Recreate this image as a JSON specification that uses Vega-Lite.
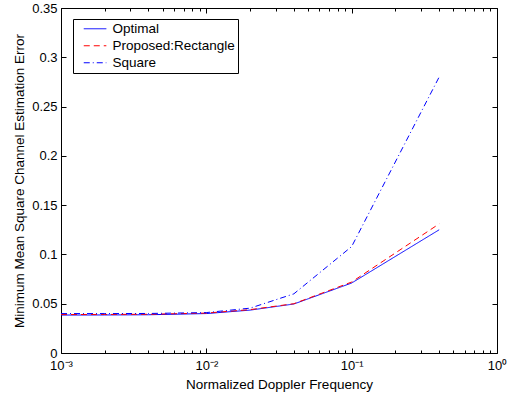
{
  "$schema": "https://vega.github.io/schema/vega-lite/v6.json",
  "width": 436,
  "height": 345,
  "autosize": "none",
  "padding": {"left": 61, "top": 8, "right": 20, "bottom": 43},
  "background": "white",
  "config": {
    "font": "Liberation Sans",
    "view": {"stroke": "black", "strokeWidth": 1},
    "axis": {
      "grid": false,
      "domain": false,
      "tickColor": "black",
      "labelColor": "black",
      "titleColor": "black",
      "labelFontSize": 13,
      "titleFontSize": 13.5,
      "titleFontWeight": "normal",
      "labelFont": "Liberation Sans",
      "titleFont": "Liberation Sans"
    },
    "legend": {
      "labelFontSize": 13.5,
      "labelFont": "Liberation Sans",
      "labelColor": "black"
    }
  },
  "data": {
    "values": [
      {"f": 0.001, "mse": 0.0385, "series": "Optimal"},
      {"f": 0.002, "mse": 0.0386, "series": "Optimal"},
      {"f": 0.004, "mse": 0.0388, "series": "Optimal"},
      {"f": 0.01, "mse": 0.0400, "series": "Optimal"},
      {"f": 0.02, "mse": 0.0435, "series": "Optimal"},
      {"f": 0.04, "mse": 0.0497, "series": "Optimal"},
      {"f": 0.1, "mse": 0.0710, "series": "Optimal"},
      {"f": 0.4, "mse": 0.1250, "series": "Optimal"},
      {"f": 0.001, "mse": 0.0390, "series": "Proposed:Rectangle"},
      {"f": 0.002, "mse": 0.0391, "series": "Proposed:Rectangle"},
      {"f": 0.004, "mse": 0.0393, "series": "Proposed:Rectangle"},
      {"f": 0.01, "mse": 0.0405, "series": "Proposed:Rectangle"},
      {"f": 0.02, "mse": 0.0440, "series": "Proposed:Rectangle"},
      {"f": 0.04, "mse": 0.0500, "series": "Proposed:Rectangle"},
      {"f": 0.1, "mse": 0.0720, "series": "Proposed:Rectangle"},
      {"f": 0.4, "mse": 0.1310, "series": "Proposed:Rectangle"},
      {"f": 0.001, "mse": 0.0400, "series": "Square"},
      {"f": 0.002, "mse": 0.0400, "series": "Square"},
      {"f": 0.004, "mse": 0.0401, "series": "Square"},
      {"f": 0.01, "mse": 0.0410, "series": "Square"},
      {"f": 0.02, "mse": 0.0455, "series": "Square"},
      {"f": 0.04, "mse": 0.0600, "series": "Square"},
      {"f": 0.1, "mse": 0.1080, "series": "Square"},
      {"f": 0.4, "mse": 0.2800, "series": "Square"}
    ]
  },
  "layer": [
    {
      "mark": {"type": "line", "strokeWidth": 1},
      "encoding": {
        "x": {
          "field": "f", "type": "quantitative",
          "scale": {"type": "log", "domain": [0.001, 1], "nice": false},
          "axis": {
            "orient": "bottom",
            "title": "Normalized Doppler Frequency",
            "titlePadding": 3,
            "values": [0.001,0.002,0.003,0.004,0.005,0.006,0.007,0.008,0.009,0.01,0.02,0.03,0.04,0.05,0.06,0.07,0.08,0.09,0.1,0.2,0.3,0.4,0.5,0.6,0.7,0.8,0.9,1],
            "labelExpr": "datum.value == 0.001 ? '10⁻³' : datum.value == 0.01 ? '10⁻²' : datum.value == 0.1 ? '10⁻¹' : datum.value == 1 ? '10⁰' : ''",
            "labelFlush": false,
            "labelOverlap": false,
            "tickSize": {"condition": {"test": "datum.value == 0.001 || datum.value == 0.01 || datum.value == 0.1 || datum.value == 1", "value": -5}, "value": -3},
            "labelPadding": 11
          }
        },
        "y": {
          "field": "mse", "type": "quantitative",
          "scale": {"domain": [0, 0.35], "nice": false, "zero": true},
          "axis": {
            "orient": "left",
            "title": "Minimum Mean Square Channel Estimation Error",
            "values": [0, 0.05, 0.1, 0.15, 0.2, 0.25, 0.3, 0.35],
            "format": "~g",
            "tickSize": -5,
            "labelPadding": 9,
            "titlePadding": 5
          }
        },
        "color": {
          "field": "series", "type": "nominal",
          "scale": {"domain": ["Optimal", "Proposed:Rectangle", "Square"], "range": ["#0000ff", "#ff0000", "#0000ff"]},
          "legend": {
            "orient": "none", "legendX": 12, "legendY": 11,
            "title": null,
            "strokeColor": "black",
            "fillColor": "white",
            "padding": 3,
            "symbolType": "M0.25,0H5.9",
            "symbolSize": 64,
            "symbolStrokeWidth": 1,
            "labelOffset": 23,
            "rowPadding": 2
          }
        },
        "strokeDash": {
          "field": "series", "type": "nominal",
          "scale": {"domain": ["Optimal", "Proposed:Rectangle", "Square"], "range": [[1, 0], [6, 4], [6, 3, 1, 3]]},
          "legend": {
            "orient": "none", "legendX": 12, "legendY": 11,
            "title": null,
            "strokeColor": "black",
            "fillColor": "white",
            "padding": 3,
            "symbolType": "M0.25,0H5.9",
            "symbolSize": 64,
            "symbolStrokeWidth": 1,
            "labelOffset": 23,
            "rowPadding": 2
          }
        }
      }
    },
    {
      "mark": {"type": "line", "opacity": 0},
      "encoding": {
        "x": {
          "field": "f", "type": "quantitative",
          "scale": {"type": "log", "domain": [0.001, 1], "nice": false},
          "axis": {
            "orient": "top", "title": null, "labels": false,
            "values": [0.001,0.002,0.003,0.004,0.005,0.006,0.007,0.008,0.009,0.01,0.02,0.03,0.04,0.05,0.06,0.07,0.08,0.09,0.1,0.2,0.3,0.4,0.5,0.6,0.7,0.8,0.9,1],
            "tickSize": {"condition": {"test": "datum.value == 0.001 || datum.value == 0.01 || datum.value == 0.1 || datum.value == 1", "value": -5}, "value": -3}
          }
        },
        "y": {
          "field": "mse", "type": "quantitative",
          "scale": {"domain": [0, 0.35], "nice": false, "zero": true},
          "axis": {
            "orient": "right", "title": null, "labels": false,
            "values": [0, 0.05, 0.1, 0.15, 0.2, 0.25, 0.3, 0.35],
            "tickSize": -5
          }
        },
        "detail": {"field": "series", "type": "nominal"}
      }
    }
  ],
  "resolve": {"axis": {"x": "independent", "y": "independent"}}
}
